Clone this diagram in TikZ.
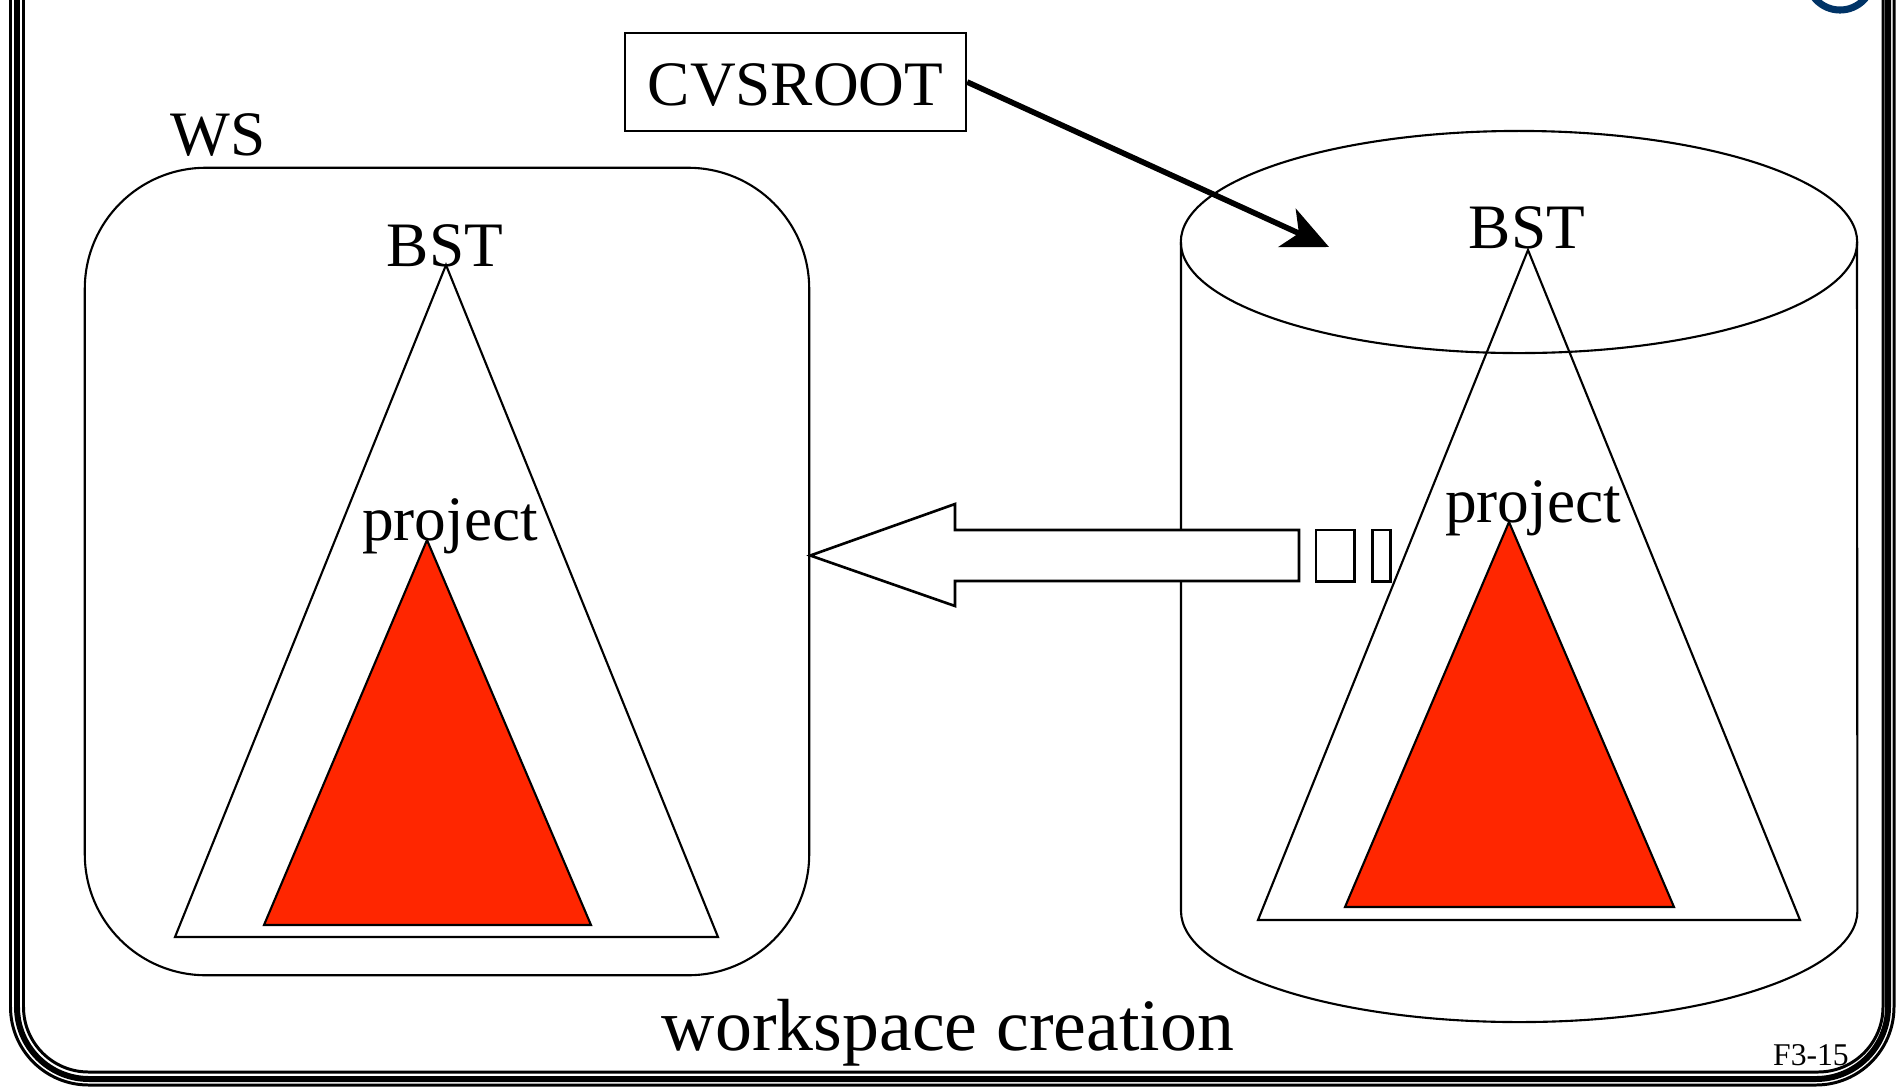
\documentclass[tikz,border=0pt]{standalone}
\usepackage{fontspec}
\setmainfont{Liberation Serif}
\usepackage{xcolor}
\usetikzlibrary{arrows.meta}

\definecolor{projred}{RGB}{255,38,0}
\definecolor{badgeblue}{RGB}{0,51,102}

\begin{document}
\begin{tikzpicture}[
    x=0.01cm, y=-0.01cm,
    lbl/.style={inner sep=0pt, anchor=base, font=\fontsize{18}{21}\selectfont},
    thinline/.style={draw=black, line width=0.6pt},
    tree/.style={thinline, line join=miter},
    subtree/.style={tree, fill=projred},
    wsbox/.style={thinline, rounded corners=1.21cm, minimum width=7.24cm, minimum height=8.07cm, inner sep=0pt},
    rootbox/.style={thinline, minimum width=3.41cm, minimum height=0.98cm, text height=0.6cm, text depth=0.14cm, inner sep=0pt, font=\fontsize{18}{21}\selectfont},
    tofu/.style={draw=black, line width=0.85pt, inner sep=0pt, minimum height=0.51cm},
    fatarrow/.style={draw=black, line width=0.75pt, fill=white, line join=miter},
    arr/.style={-{Stealth[length=0.46cm, width=0.42cm, inset=0.13cm]}, line width=1.6pt}
]
\useasboundingbox (0,0) rectangle (1896,1087);
\clip (0,0) rectangle (1896,1087);

% slide frame
\draw[line width=0.85pt, rounded corners=0.78cm] (10.5,-200) rectangle (1894,1085);
\draw[line width=1.7pt, rounded corners=0.72cm] (17,-200) rectangle (1888,1079);
\draw[line width=0.85pt, rounded corners=0.65cm] (23.5,-200) rectangle (1883,1072);
\draw[badgeblue, line width=2pt] (1840,-23) circle [radius=0.33cm];

% workspace
\node[wsbox] (ws) at (447,571.5) {};
\node[lbl] (wslbl) at (218,155) {WS};
\draw[tree] (446,265) -- (718,937) -- (175,937) -- cycle;
\draw[subtree] (427,540) -- (591,925) -- (264,925) -- cycle;
\node[lbl] (bstws) at (445,266) {BST};
\node[lbl] (projws) at (450,540) {project};

% repository
\draw[thinline, fill=white] (1181,242) -- (1181,911)
    arc[start angle=180, end angle=360, x radius=3.38cm, y radius=1.11cm]
    -- (1857,242);
\draw[thinline] (1519,242) ellipse [x radius=3.38cm, y radius=1.11cm];
\draw[tree] (1528,250) -- (1800,920) -- (1258,920) -- cycle;
\draw[subtree] (1509,522) -- (1674,907) -- (1345,907) -- cycle;
\node[lbl] (bstrep) at (1527,248) {BST};
\node[lbl] (projrep) at (1533,522) {project};

% checkout arrow
\node[tofu, minimum width=0.38cm] (tofua) at (1335,555.5) {};
\node[tofu, minimum width=0.18cm] (tofub) at (1381,555.5) {};
\draw[fatarrow] (ws.east |- tofua) -- (955,504) -- (955,530) -- (1299,530)
    -- (1299,581) -- (955,581) -- (955,606) -- cycle;

% root pointer
\node[rootbox] (root) at (795.5,82) {CVSROOT};
\coordinate (reptop) at (1329,247);
\draw[arr] (root.east) -- (reptop);

\node[lbl, font=\fontsize{21}{25}\selectfont] (title) at (948,1050) {workspace creation};
\node[lbl, font=\fontsize{9}{11}\selectfont] (slideno) at (1811,1065) {F3-15};

\end{tikzpicture}
\end{document}
